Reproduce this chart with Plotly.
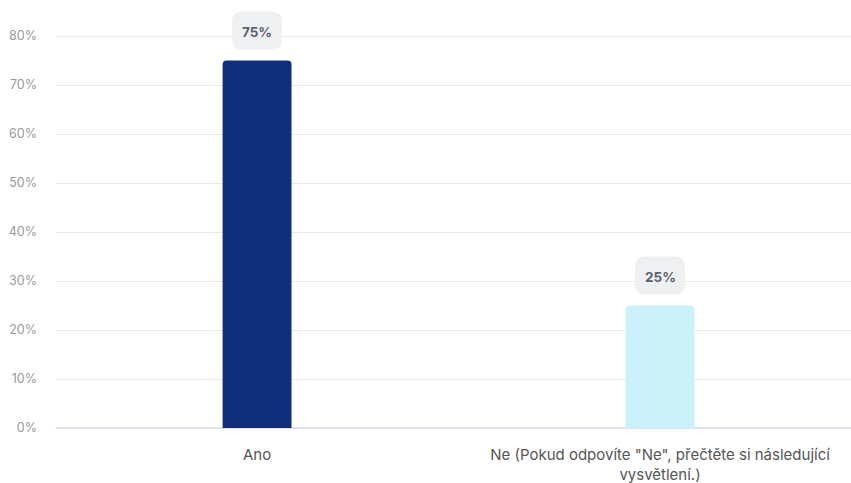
import plotly.graph_objects as go

categories = ["Ano", "Ne (Pokud odpovíte \"Ne\", přečtěte si následující<br>vysvětlení.)"]
values = [75, 25]
bar_colors = ["#112e7c", "#cdf1f9"]
y_ticks = [0, 10, 20, 30, 40, 50, 60, 70, 80]
y_tick_labels = [f"{v}%" for v in y_ticks]

FONT = "Inter, Roboto, sans-serif"
xs = list(range(len(categories)))

fig = go.Figure()
fig.add_trace(go.Bar(
    x=xs, y=values, width=0.171,
    marker=dict(color=bar_colors, line=dict(width=0)),
    hoverinfo="skip",
))

def rounded_rect(x0, y0, x1, y1, r):
    return (f"M {x0+r},{y0} L {x1-r},{y0} Q {x1},{y0} {x1},{y0+r} "
            f"L {x1},{y1-r} Q {x1},{y1} {x1-r},{y1} L {x0+r},{y1} "
            f"Q {x0},{y1} {x0},{y1-r} L {x0},{y0+r} Q {x0},{y0} {x0+r},{y0} Z")

for x, v in zip(xs, values):
    fig.add_shape(
        type="path", xref="x", yref="y",
        xsizemode="pixel", ysizemode="pixel",
        xanchor=x, yanchor=v,
        path=rounded_rect(-25, 11, 25, 49, 10),
        fillcolor="#eff0f1", line=dict(width=0), layer="above",
    )
    fig.add_annotation(
        x=x, y=v, xref="x", yref="y", text=f"<b>{v}%</b>",
        showarrow=False, yshift=29,
        font=dict(family=FONT, size=13.5, color="#5b6373"),
    )

fig.update_layout(
    width=851, height=483,
    margin=dict(l=56, r=0, t=5, b=55),
    paper_bgcolor="white", plot_bgcolor="white",
    showlegend=False,
    barcornerradius=4,
    font=dict(family=FONT),
    xaxis=dict(
        range=[-0.499, 1.474],
        tickmode="array", tickvals=xs, ticktext=categories,
        showgrid=False, zeroline=False, showline=False, ticks="",
        ticklabelstandoff=16,
        tickfont=dict(family=FONT, size=15, color="#555555"),
        fixedrange=True,
    ),
    yaxis=dict(
        range=[0, 86.33],
        tickmode="array", tickvals=y_ticks, ticktext=y_tick_labels,
        showgrid=True, gridcolor="#e9e9e9", gridwidth=1,
        zeroline=True, zerolinecolor="#dde1f0", zerolinewidth=2,
        showline=False, ticks="",
        ticklabelstandoff=18,
        tickfont=dict(family=FONT, size=12.5, color="#9a9a9a"),
        fixedrange=True,
    ),
)

fig.write_html("out.html")
